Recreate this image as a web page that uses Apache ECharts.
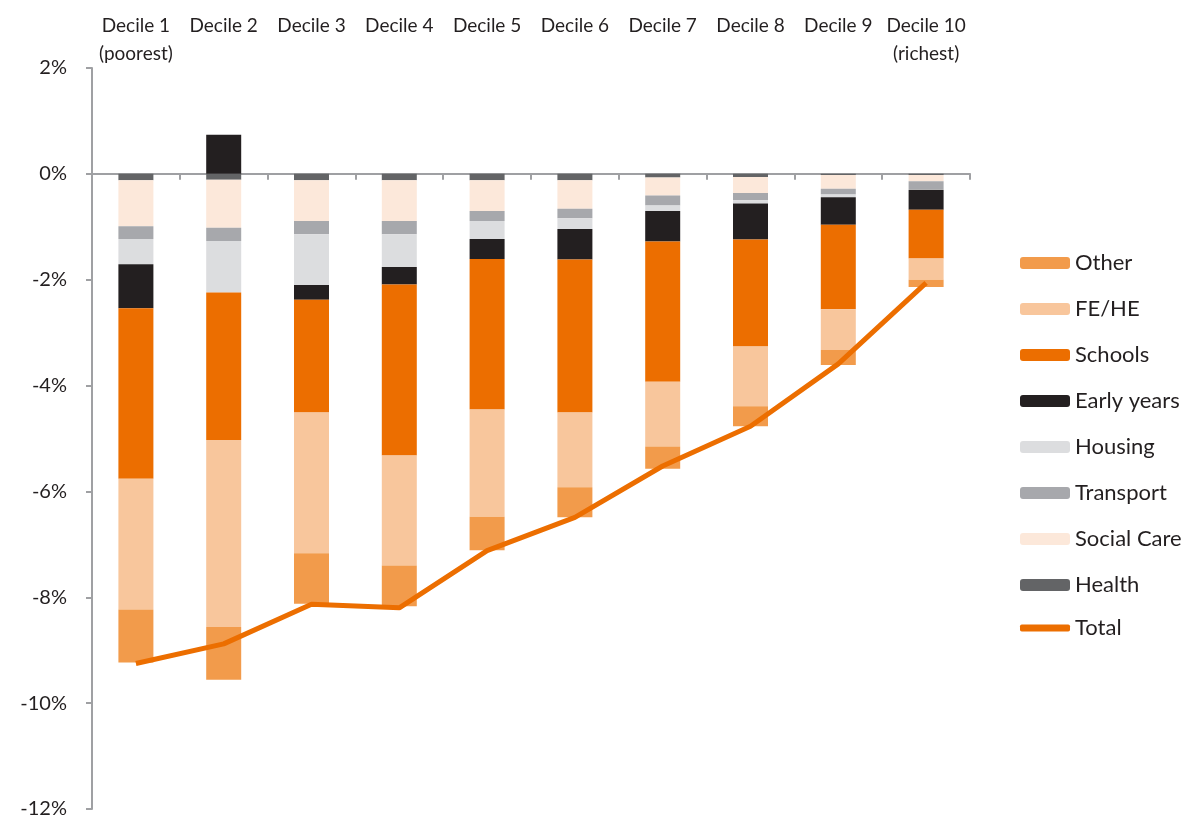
<!DOCTYPE html>
<html>
<head>
<meta charset="utf-8">
<script src="https://cdn.jsdelivr.net/npm/echarts@6/dist/echarts.min.js"></script>
<style>
html,body{margin:0;padding:0;background:#fff;}
#chart{width:1189px;height:819px;}
</style>
</head>
<body>
<div id="chart"></div>
<script>
var deciles = ['Decile 1\n(poorest)','Decile 2','Decile 3','Decile 4','Decile 5','Decile 6','Decile 7','Decile 8','Decile 9','Decile 10\n(richest)'];

// % change
var health     = [-0.12,-0.11,-0.12,-0.12,-0.12,-0.12,-0.07,-0.06,-0.02,-0.02];
var socialCare = [-0.87,-0.91,-0.77,-0.77,-0.58,-0.54,-0.34,-0.30,-0.26,-0.12];
var transport  = [-0.24,-0.25,-0.25,-0.25,-0.19,-0.18,-0.19,-0.14,-0.11,-0.15];
var housing    = [-0.48,-0.97,-0.96,-0.62,-0.34,-0.20,-0.10,-0.06,-0.05,-0.01];
var earlyYears = [-0.83, 0.74,-0.28,-0.33,-0.38,-0.58,-0.58,-0.68,-0.52,-0.38];
var schools    = [-3.22,-2.79,-2.13,-3.23,-2.84,-2.89,-2.65,-2.02,-1.60,-0.92];
var feHe       = [-2.47,-3.53,-2.66,-2.08,-2.03,-1.41,-1.22,-1.13,-0.77,-0.40];
var other      = [-1.00,-1.00,-0.95,-0.77,-0.63,-0.57,-0.42,-0.38,-0.28,-0.14];
var total      = [-9.25,-8.88,-8.13,-8.20,-7.12,-6.49,-5.52,-4.77,-3.59,-2.06];

var yTicks = {min:-12, max:2, step:2};

var FONT = 'Lato';
var chart = echarts.init(document.getElementById('chart'));

function barSeries(name, data, color){
	return {
		name: name,
		type: 'bar',
		stack: 'all',
		barWidth: 35,
		itemStyle: {color: color},
		data: data
	};
}

var legendText = {fontFamily: FONT, fontSize: 22, lineHeight: 20, color: '#231F20'};

var option = {
	animation: false,
	textStyle: {fontFamily: FONT},
	grid: {left: 92, right: 219, top: 68, bottom: 7},
	legend: [{
		orient: 'vertical',
		left: 1015,
		top: 247,
		itemWidth: 50,
		itemHeight: 12,
		itemGap: 24,
		textStyle: legendText,
		data: ['Other','FE/HE','Schools','Early years','Housing','Transport','Social Care','Health']
	},{
		orient: 'vertical',
		left: 1015,
		top: 612,
		itemWidth: 50,
		itemHeight: 7,
		textStyle: legendText,
		data: [{name: 'Total', icon: 'roundRect'}]
	}],
	xAxis: [{
		type: 'category',
		position: 'top',
		data: deciles,
		axisLine: {show: false, onZero: false},
		axisTick: {show: false},
		axisLabel: {
			interval: 0,
			verticalAlign: 'top',
			margin: 56,
			fontSize: 19,
			lineHeight: 28,
			color: '#231F20'
		}
	},{
		type: 'category',
		position: 'top',
		data: deciles,
		axisLine: {show: true, onZero: true, lineStyle: {color: '#9FA0A3', width: 2}},
		axisTick: {show: true, inside: true, length: 6, lineStyle: {color: '#9FA0A3', width: 2}},
		axisLabel: {show: false}
	}],
	yAxis: {
		type: 'value',
		min: yTicks.min,
		max: yTicks.max,
		interval: yTicks.step,
		axisLine: {show: true, lineStyle: {color: '#9FA0A3', width: 2}},
		axisTick: {show: true, length: 6, lineStyle: {color: '#9FA0A3', width: 2}},
		splitLine: {show: false},
		axisLabel: {
			margin: 25,
			fontSize: 20,
			color: '#231F20',
			formatter: function(v){ return v + '%'; }
		}
	},
	series: [
		barSeries('Health', health, '#636466'),
		barSeries('Social Care', socialCare, '#FCE8DA'),
		barSeries('Transport', transport, '#A7A8AC'),
		barSeries('Housing', housing, '#DCDDDF'),
		barSeries('Early years', earlyYears, '#231F20'),
		barSeries('Schools', schools, '#EC6E00'),
		barSeries('FE/HE', feHe, '#F8C69C'),
		barSeries('Other', other, '#F29B4B'),
		{
			name: 'Total',
			type: 'line',
			symbol: 'none',
			lineStyle: {color: '#EC6E00', width: 5},
			itemStyle: {color: '#EC6E00'},
			z: 5,
			data: total
		}
	]
};
chart.setOption(option);
</script>
</body>
</html>
